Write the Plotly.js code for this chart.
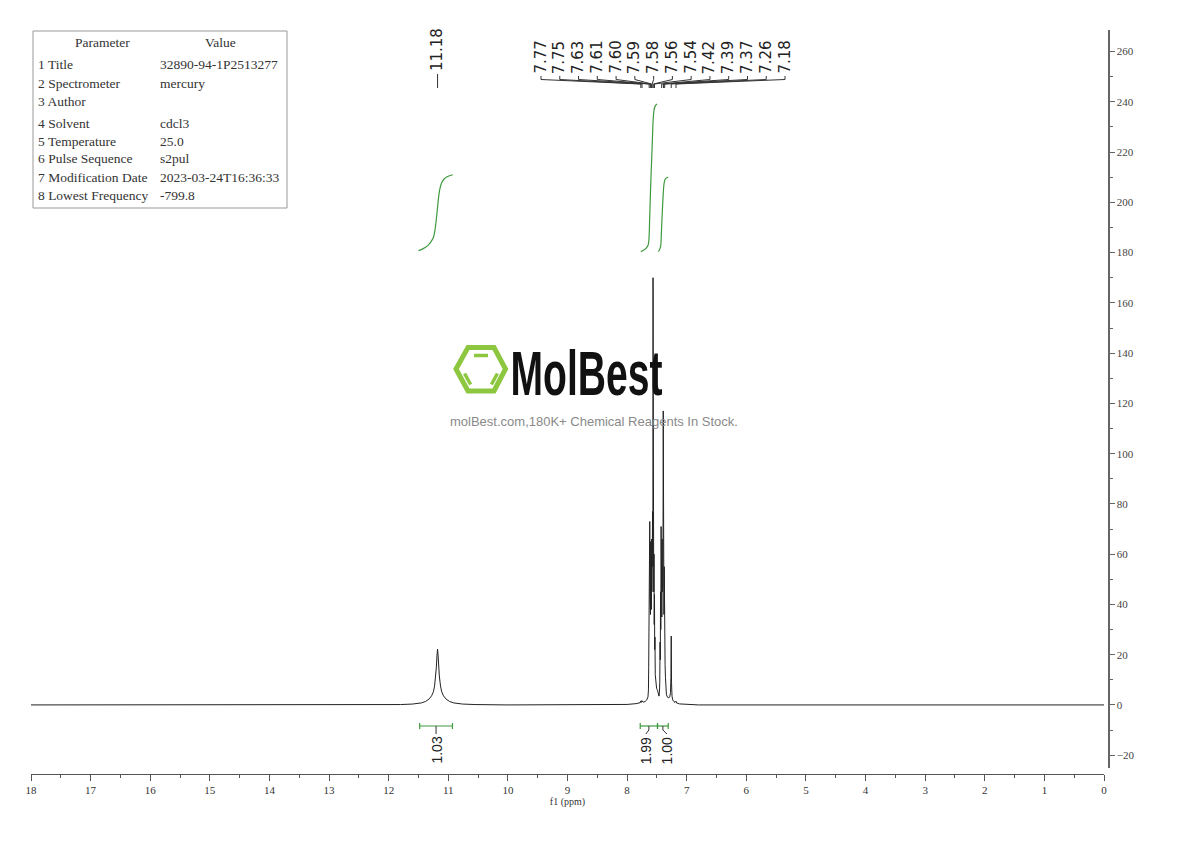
<!DOCTYPE html>
<html><head><meta charset="utf-8">
<script src="https://cdn.plot.ly/plotly-3.0.1.min.js"></script>
<style>html,body{margin:0;padding:0;background:#fff}#chart{width:1190px;height:841px}</style>
</head><body><div id="chart"></div>
<script>
// ---------------- DATA ----------------
const specPpm = [18.0,12.5,11.80,11.60,11.45,11.38,11.32,11.28,11.25,11.23,11.21,11.20,11.19,11.18,11.17,11.16,11.15,11.13,11.11,11.08,11.04,10.98,10.91,10.76,10.55,10.0,
  8.30,8.00,7.85,7.78,7.77,7.76,7.75,7.73,7.70,7.67,7.65,7.642,7.638,7.635,7.632,7.628,7.624,7.620,7.616,7.612,7.608,7.604,7.600,7.596,7.592,7.588,7.584,7.580,7.576,7.572,7.568,7.565,7.561,7.557,7.553,7.549,7.545,7.541,7.537,7.533,7.528,7.520,7.505,7.490,7.475,7.465,
  7.458,7.452,7.447,7.443,7.439,7.435,7.430,7.426,7.421,7.417,7.412,7.408,7.403,7.399,7.394,7.390,7.386,7.382,7.377,7.373,7.368,7.363,7.357,7.350,7.340,7.320,7.300,7.285,7.272,7.265,7.260,7.255,7.247,7.235,7.215,7.195,7.180,7.170,7.12,7.00,6.80,0.0];
const specInt = [0,0,0.15,0.35,0.8,1.4,2.4,3.6,5.2,7.5,11.5,15,19.5,22.2,19.5,15,11.5,7.5,5.2,3.6,2.4,1.4,0.8,0.35,0.15,0,
  0,0.2,0.5,0.9,1.6,1.0,1.7,1.1,1.3,2.0,3.2,6,15,27,20,45,30,73,42,58,36,65,40,56,38,66,45,75,50,77,55,170,58,77,45,60,32,44,22,27,12,8,6.5,5.8,4.5,3.5,
  5,9,25,18,45,30,71,40,62,35,66,45,58,48,117,52,68,36,55,28,36,16,11,6,4,3,2.8,3.2,5,11,27.4,9,3.5,2,1.3,1.0,1.5,0.8,0.4,0.15,0,0];

const integ1Ppm = [11.50,11.42,11.35,11.30,11.25,11.22,11.20,11.18,11.16,11.14,11.11,11.07,11.02,10.97,10.925];
const integ1Val = [180.8,181.6,182.7,184.0,186.0,189.5,193.5,198.0,202.5,205.5,207.8,209.3,210.2,210.7,211.0];
const integ2Ppm = [7.77,7.72,7.68,7.65,7.635,7.62,7.60,7.58,7.565,7.55,7.53,7.50];
const integ2Val = [180.4,181.0,181.8,182.8,185.0,195.0,210.0,222.0,232.0,236.5,238.3,239.2];
const integ3Ppm = [7.475,7.45,7.435,7.425,7.41,7.395,7.38,7.36,7.335,7.31];
const integ3Val = [180.4,181.5,183.0,188.0,196.0,203.0,207.5,209.3,209.8,210.0];

const peakLabels = ['7.77','7.75','7.63','7.61','7.60','7.59','7.58','7.56','7.54','7.42','7.39','7.37','7.26','7.18'];
const peakPpm = [7.77,7.75,7.63,7.61,7.60,7.59,7.58,7.56,7.54,7.42,7.39,7.37,7.26,7.18];
const singleLabel = '11.18';
const singlePpm = 11.18;

const integRanges = [[11.48,10.93],[7.78,7.49],[7.49,7.31]];
const integValues = ['1.03','1.99','1.00'];

const tableHeader = ['Parameter','Value'];
const tableParams = ['1 Title','2 Spectrometer','3 Author','4 Solvent','5 Temperature','6 Pulse Sequence','7 Modification Date','8 Lowest Frequency'];
const tableValues = ['32890-94-1P2513277','mercury','','cdcl3','25.0','s2pul','2023-03-24T16:36:33','-799.8'];

const xTitle = 'f1 (ppm)';
const brandName = 'MolBest';
const brandSub = 'molBest.com,180K+ Chemical Reagents In Stock.';

// ---------------- GEOMETRY ----------------
const W=1190,H=841,ML=31,MR=82,MT=30,MB=67;
const PW=W-ML-MR, PH=H-MT-MB;
const X0PX=31, X1PX=1104;
const xDomEnd=(X1PX-ML)/PW;
const pxPerPpm=(X1PX-X0PX)/18;
function pxToPpm(px){return 18-(px-X0PX)/pxPerPpm;}
function ppmToPx(p){return X0PX+(18-p)*pxPerPpm;}
function pxX(px){return (px-ML)/PW;}
function pxY(py){return (H-MB-py)/PH;}

const GREEN='#3f9a3f';
const LOGO='#8dc63f';
const serif='Liberation Serif, DejaVu Serif, serif';
const sans='Liberation Sans, Arial, sans-serif';
const dvs='DejaVu Sans, sans-serif';

const traces=[
  {x:specPpm,y:specInt,type:'scatter',mode:'lines',line:{color:'#222',width:1},hoverinfo:'skip'},
  {x:integ1Ppm,y:integ1Val,type:'scatter',mode:'lines',line:{color:GREEN,width:1.2,shape:'spline'},hoverinfo:'skip'},
  {x:integ2Ppm,y:integ2Val,type:'scatter',mode:'lines',line:{color:GREEN,width:1.2,shape:'spline'},hoverinfo:'skip'},
  {x:integ3Ppm,y:integ3Val,type:'scatter',mode:'lines',line:{color:GREEN,width:1.2,shape:'spline'},hoverinfo:'skip'}
];

const shapes=[];
const annotations=[];

// parameter table
const tf={family:serif,size:13.5,color:'#333'};
shapes.push({type:'rect',xref:'paper',yref:'paper',x0:pxX(33),x1:pxX(287),y0:pxY(208),y1:pxY(31),line:{color:'#999',width:1}});
annotations.push({xref:'paper',yref:'paper',x:pxX(102),y:pxY(43),text:tableHeader[0],showarrow:false,xanchor:'center',yanchor:'middle',font:tf});
annotations.push({xref:'paper',yref:'paper',x:pxX(220),y:pxY(43),text:tableHeader[1],showarrow:false,xanchor:'center',yanchor:'middle',font:tf});
const rowY=[65,83,101,123,141,159,177,195];
tableParams.forEach((p,i)=>{
  annotations.push({xref:'paper',yref:'paper',x:pxX(36),y:pxY(rowY[i]),text:p,showarrow:false,xanchor:'left',yanchor:'middle',font:tf});
  if(tableValues[i]) annotations.push({xref:'paper',yref:'paper',x:pxX(158),y:pxY(rowY[i]),text:tableValues[i],showarrow:false,xanchor:'left',yanchor:'middle',font:tf});
});

// peak labels (multiplet)
const lblStart=541, lblStep=18.77;
peakLabels.forEach((t,i)=>{
  const lx=pxToPpm(lblStart+i*lblStep);
  annotations.push({xref:'x',yref:'paper',x:lx,y:pxY(76),text:t,showarrow:false,textangle:-90,xanchor:'center',yanchor:'bottom',font:{family:dvs,size:15,color:'#222'}});
  shapes.push({type:'line',xref:'x',yref:'paper',x0:lx,x1:lx,y0:pxY(76),y1:pxY(79.5),line:{color:'#333',width:1}});
  shapes.push({type:'line',xref:'x',yref:'paper',x0:lx,x1:peakPpm[i],y0:pxY(79.5),y1:pxY(84),line:{color:'#333',width:1}});
  shapes.push({type:'line',xref:'x',yref:'paper',x0:peakPpm[i],x1:peakPpm[i],y0:pxY(84),y1:pxY(88),line:{color:'#333',width:1}});
});
annotations.push({xref:'x',yref:'paper',x:singlePpm,y:pxY(73),text:singleLabel,showarrow:false,textangle:-90,xanchor:'center',yanchor:'bottom',font:{family:dvs,size:15,color:'#222'}});
shapes.push({type:'line',xref:'x',yref:'paper',x0:singlePpm,x1:singlePpm,y0:pxY(74),y1:pxY(88),line:{color:'#333',width:1}});

// integration brackets
const lblShift=[0,-3,4];
integRanges.forEach((r,i)=>{
  const yB=pxY(726);
  shapes.push({type:'line',xref:'x',yref:'paper',x0:r[0],x1:r[1],y0:yB,y1:yB,line:{color:GREEN,width:1.2}});
  shapes.push({type:'line',xref:'x',yref:'paper',x0:r[0],x1:r[0],y0:pxY(723),y1:pxY(729),line:{color:GREEN,width:1.2}});
  shapes.push({type:'line',xref:'x',yref:'paper',x0:r[1],x1:r[1],y0:pxY(723),y1:pxY(729),line:{color:GREEN,width:1.2}});
  const c=(r[0]+r[1])/2;
  const lx=pxToPpm(ppmToPx(c)+lblShift[i]);
  shapes.push({type:'line',xref:'x',yref:'paper',x0:c,x1:c,y0:yB,y1:pxY(730),line:{color:'#333',width:1}});
  shapes.push({type:'line',xref:'x',yref:'paper',x0:c,x1:lx,y0:pxY(730),y1:pxY(734),line:{color:'#333',width:1}});
  annotations.push({xref:'x',yref:'paper',x:lx,y:pxY(735),text:integValues[i],showarrow:false,textangle:-90,xanchor:'center',yanchor:'top',font:{family:sans,size:14,color:'#222'}});
});

// watermark logo
function P(px,py){return pxX(px).toFixed(5)+','+pxY(py).toFixed(5);}
const hexPath='M'+P(456,369)+' L'+P(468,347.5)+' L'+P(494,347.5)+' L'+P(505.5,369)+' L'+P(494,391)+' L'+P(468,391)+' Z';
shapes.push({type:'path',xref:'paper',yref:'paper',path:hexPath,line:{color:LOGO,width:5}});
shapes.push({type:'line',xref:'paper',yref:'paper',x0:pxX(474),x1:pxX(488),y0:pxY(355.5),y1:pxY(355.5),line:{color:LOGO,width:3.5}});
shapes.push({type:'line',xref:'paper',yref:'paper',x0:pxX(464.6),x1:pxX(470.6),y0:pxY(373.5),y1:pxY(384.5),line:{color:LOGO,width:3.5}});
shapes.push({type:'line',xref:'paper',yref:'paper',x0:pxX(491.4),x1:pxX(497.4),y0:pxY(384.5),y1:pxY(373.5),line:{color:LOGO,width:3.5}});
annotations.push({xref:'paper',yref:'paper',x:pxX(586),y:pxY(373),text:brandName,showarrow:false,xanchor:'center',yanchor:'middle',font:{family:sans,size:63,weight:700,color:'#111'}});
annotations.push({xref:'paper',yref:'paper',x:pxX(594),y:pxY(421),text:brandSub,showarrow:false,xanchor:'center',yanchor:'middle',font:{family:sans,size:13,color:'#8a8a8a'}});

const layout={
  width:W,height:H,
  margin:{l:ML,r:MR,t:MT,b:MB,pad:0},
  paper_bgcolor:'#fff',plot_bgcolor:'#fff',
  showlegend:false,
  xaxis:{range:[18,0],domain:[0,xDomEnd],anchor:'free',position:0,
    showline:true,linecolor:'#555',linewidth:1.2,
    ticks:'outside',ticklen:6,tickwidth:1,tickcolor:'#555',
    tick0:0,dtick:1,
    minor:{dtick:0.5,ticks:'outside',ticklen:3,tickcolor:'#555',showgrid:false},
    showgrid:false,zeroline:false,
    tickfont:{family:serif,size:11,color:'#333'},
    title:{text:xTitle,font:{family:serif,size:10,color:'#333'},standoff:2}},
  yaxis:{range:[-25.1,268.6],domain:[pxY(768),1],side:'right',anchor:'free',position:1,
    showline:true,linecolor:'#666',linewidth:1.5,
    ticks:'outside',ticklen:5,tickwidth:1,tickcolor:'#666',
    tick0:0,dtick:20,
    minor:{dtick:10,ticks:'outside',ticklen:3,tickcolor:'#666',showgrid:false},
    showgrid:false,zeroline:false,
    tickfont:{family:serif,size:11,color:'#444'}},
  shapes:shapes,
  annotations:annotations
};

Plotly.newPlot('chart',traces,layout,{staticPlot:true,displayModeBar:false}).then(gd=>{
  gd.querySelectorAll('text.annotation-text').forEach(t=>{
    if(t.textContent===brandName){
      t.setAttribute('textLength','152');
      t.setAttribute('lengthAdjust','spacingAndGlyphs');
    }
  });
});
</script>
</body></html>
